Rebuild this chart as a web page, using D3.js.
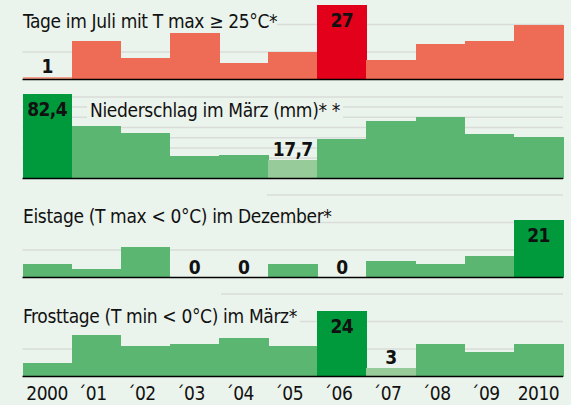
<!DOCTYPE html>
<html>
<head>
<meta charset="utf-8">
<script src="https://cdn.jsdelivr.net/npm/d3@7"></script>
<style>
  body { margin: 0; background: #ebf4ec; }
  svg { display: block; }
  text { font-family: "DejaVu Sans Condensed", "Liberation Sans Narrow", "DejaVu Sans", sans-serif; font-stretch: condensed; }
</style>
</head>
<body>
<div id="chart"></div>
<script>
/***********************************************/
//                  DATA                       //
/***********************************************/

const years = ["2000", "´01", "´02", "´03", "´04", "´05", "´06", "´07", "´08", "´09", "2010"];

const julyHotDays    = [1, 14, 8, 17, 6, 10, 27, 7, 13, 14, 20];
const marchRain      = [82.4, 51.3, 44.4, 22.2, 23.1, 17.7, 38.8, 56.5, 60.1, 43.4, 40.5];
const decIceDays     = [5, 3, 11, 0, 0, 5, 0, 6, 5, 8, 21];
const marchFrostDays = [5, 15, 11, 12, 14, 11, 24, 3, 12, 9, 12];

const titles = [
  "Tage im Juli mit T max ≥ 25°C*",
  "Niederschlag im März (mm)* *",
  "Eistage (T max < 0°C) im Dezember*",
  "Frosttage (T min < 0°C) im März*"
];

const dayTicks  = [10, 20, 30];
const rainTicks = [10, 20, 30, 40, 50, 60, 70, 80];

/***********************************************/
//                 LAYOUT                      //
/***********************************************/

const width = 571,
    height = 405,
    left = 22.5,
    right = 563;

const red   = { base: "#ee6b56", max: "#e2001a", min: "#f3a08c" },
    green = { base: "#5bb672", max: "#009a3d", min: "#97cb99" };

// one entry per strip: baseline y, pixels per unit, title placement, gridline masks
const panels = [
  { values: julyHotDays, title: titles[0], ticks: dayTicks, base: 79.5, k: 2.75, col: red,
    tx: 23, ty: 27.5, masks: [[0, 20, 277, 9]] },
  { values: marchRain, title: titles[1], ticks: rainTicks, base: 178.5, k: 1.02, col: green,
    tx: 90, ty: 117, masks: [[87, 100, 256, 22]] },
  { values: decIceDays, title: titles[2], ticks: dayTicks, base: 277.5, k: 2.75, col: green,
    tx: 23, ty: 222.5, masks: [[0, 190, 267, 36]] },
  { values: marchFrostDays, title: titles[3], ticks: dayTicks, base: 376.5, k: 2.75, col: green,
    tx: 23, ty: 323, masks: [[0, 290, 221, 8], [0, 318, 300, 8]] }
];

const fmt = d3.formatLocale({ decimal: ",", thousands: ".", grouping: [3], currency: ["", "€"] });
const label = v => Number.isInteger(v) ? String(v) : fmt.format(".1f")(v);

const svg = d3.select("#chart")
  .append("svg")
    .attr("width", width)
    .attr("height", height);

svg.append("rect")
    .attr("width", width)
    .attr("height", height)
    .attr("fill", "#ebf4ec");

const x = d3.scaleBand()
    .domain(years)
    .range([left, right])
    .padding(0);

panels.forEach(function(p) {
  const maxV = d3.max(p.values), minV = d3.min(p.values);
  const y = d3.scaleLinear()
      .domain([0, 1])
      .range([p.base, p.base - p.k]);

  const g = svg.append("g");

  // gridlines
  g.selectAll(".grid")
    .data(p.ticks)
    .join("line")
      .attr("x1", left)
      .attr("x2", right)
      .attr("y1", d => y(d))
      .attr("y2", d => y(d))
      .attr("stroke", "#d9dcd9")
      .attr("stroke-width", 1.5);

  // background patches where the original hides the gridlines
  g.selectAll(".mask")
    .data(p.masks)
    .join("rect")
      .attr("x", d => d[0])
      .attr("y", d => d[1])
      .attr("width", d => d[2])
      .attr("height", d => d[3])
      .attr("fill", "#ebf4ec");

  const data = p.values.map((v, i) => ({ year: years[i], v: v }));

  g.selectAll(".bar")
    .data(data.filter(d => d.v > 0))
    .join("rect")
      .attr("x", d => x(d.year))
      .attr("width", x.bandwidth() + 0.5)
      .attr("y", d => y(d.v))
      .attr("height", d => p.base - y(d.v))
      .attr("fill", d => d.v === maxV ? p.col.max : d.v === minV ? p.col.min : p.col.base)
      .attr("shape-rendering", "crispEdges");

  g.append("line")
      .attr("x1", left)
      .attr("x2", right)
      .attr("y1", p.base)
      .attr("y2", p.base)
      .attr("stroke", "#000")
      .attr("stroke-width", 1.6);

  g.append("text")
      .attr("x", p.tx)
      .attr("y", p.ty)
      .style("font-size", "19px")
      .style("letter-spacing", "-0.35px")
      .attr("fill", "#111")
      .text(p.title);

  // values for the highest and lowest years
  g.selectAll(".val")
    .data(data.filter(d => d.v === maxV || d.v === minV))
    .join("text")
      .attr("x", d => x(d.year) + x.bandwidth() / 2)
      .attr("y", d => d.v === maxV ? y(d.v) + 22 : y(d.v) - 4)
      .attr("text-anchor", "middle")
      .style("font-size", "19px")
      .style("font-weight", "bold")
      .style("letter-spacing", "-0.6px")
      .attr("fill", "#111")
      .text(d => label(d.v));
});

// year axis under the last strip
const axis = svg.append("g")
    .attr("transform", `translate(0, ${panels[3].base})`)
    .call(d3.axisBottom(x).tickSize(0).tickPadding(10.5));

axis.select(".domain").remove();
axis.selectAll("text")
    .style("font-size", "19px")
    .style("font-family", null)
    .style("letter-spacing", "-0.5px")
    .attr("fill", "#111")
    .each(function(d) {
      // keep the digits centred, let the apostrophe hang to the left
      if (d.startsWith("´")) {
        const w = this.getSubStringLength(0, 1);
        d3.select(this).attr("dx", -w / 2);
      }
    });
</script>
</body>
</html>
